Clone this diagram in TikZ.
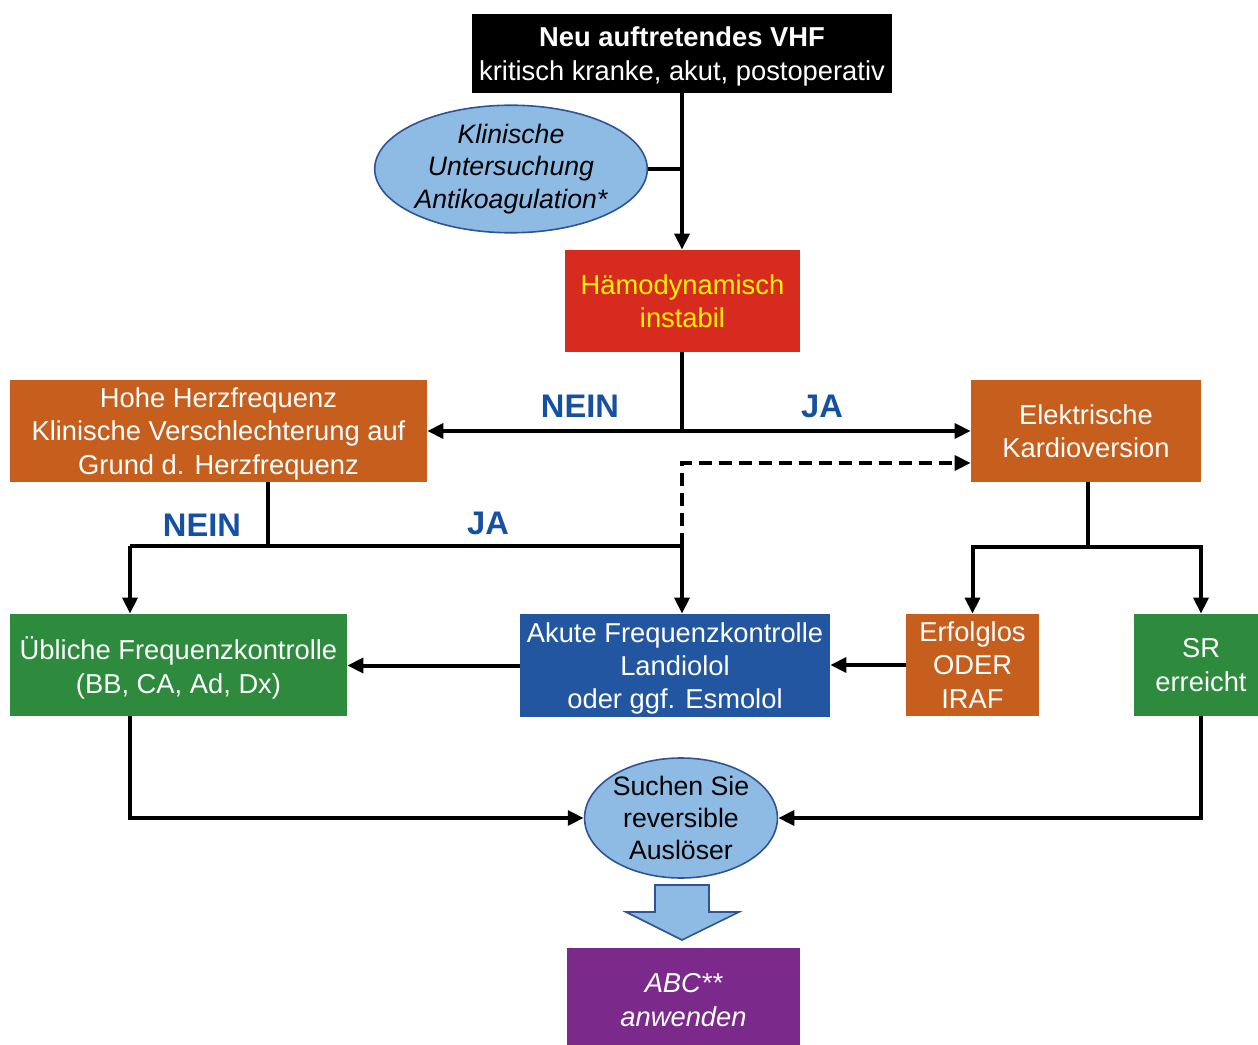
\documentclass[tikz,border=0pt]{standalone}
\usepackage{fontspec}
\setmainfont{Liberation Sans}
\usetikzlibrary{shapes,arrows.meta,calc}

\definecolor{hellblau}{HTML}{8DBBE3}
\definecolor{randblau}{HTML}{2F5496}
\definecolor{rot}{HTML}{D62B1E}
\definecolor{gelb}{HTML}{FFF200}
\definecolor{orangebox}{HTML}{C65E1D}
\definecolor{gruen}{HTML}{2E8B3E}
\definecolor{blaubox}{HTML}{2356A0}
\definecolor{lila}{HTML}{7B2A8C}
\definecolor{antwortblau}{HTML}{1650A0}

\begin{document}
\begin{tikzpicture}[x=0.75pt,y=-0.75pt,>={Triangle[length=12pt,width=11pt]},
		box/.style={rectangle,inner sep=0pt,text=white,align=center,text depth=0pt,minimum height=76.5pt,font=\fontsize{20.5}{25}\selectfont},
		oval/.style={ellipse,draw=randblau,line width=1.2pt,fill=hellblau,inner sep=0pt,align=center,font=\fontsize{20}{24}\selectfont},
		pfeil/.style={line width=3pt},
		antwort/.style={text=antwortblau,font=\fontsize{24.5}{27}\selectfont\bfseries}]
		\useasboundingbox (0,0) rectangle (1258,1045);

		\node[box,fill=black,minimum width=315pt,minimum height=59.25pt] (neu) at (682,53.5) {{\bfseries Neu auftretendes VHF}\\kritisch kranke, akut, postoperativ};
		\node[oval,minimum width=202.5pt,minimum height=91.5pt,font=\fontsize{20}{24.5}\selectfont\itshape] (klin) at (511,169) {Klinische\\Untersuchung\\Antikoagulation*};
		\node[box,fill=rot,text=gelb,minimum width=176.25pt] (instabil) at (682.5,301) {Hämodynamisch\\instabil};
		\node[box,fill=orangebox,minimum width=312.75pt] (hoch) at (218.5,431) {Hohe Herzfrequenz\\Klinische Verschlechterung auf\\Grund d. Herzfrequenz};
		\node[box,fill=orangebox,minimum width=172.5pt] (ekv) at (1086,431) {Elektrische\\Kardioversion};
		\node[box,fill=gruen,minimum width=252.75pt] (ueblich) at (178.5,665) {Übliche Frequenzkontrolle\\(BB, CA, Ad, Dx)};
		\node[box,fill=blaubox,minimum width=232.5pt,minimum height=77.25pt] (akut) at (675,665.5) {Akute Frequenzkontrolle\\Landiolol\\oder ggf. Esmolol};
		\node[box,fill=orangebox,minimum width=99.75pt] (erfolg) at (972.5,665) {Erfolglos\\ODER\\IRAF};
		\node[box,fill=gruen,minimum width=100.5pt] (sr) at (1201,665) {SR\\erreicht};
		\node[oval,minimum width=144pt,minimum height=90pt] (suche) at (681,818) {Suchen Sie\\reversible\\Auslöser};
		\node[box,fill=lila,minimum width=174.75pt,minimum height=78pt,font=\fontsize{20.5}{25}\selectfont\itshape] (abc) at (683.5,1000) {ABC**\\anwenden};

		\node[antwort] (nein1) at (580,406) {NEIN};
		\node[antwort] (ja1) at (822,406) {JA};
		\node[antwort] (nein2) at (202,525) {NEIN};
		\node[antwort] (ja2) at (488,523) {JA};

		\coordinate (j1) at (682,431);
		\coordinate (j2) at (268,546);
		\coordinate (j3) at (682,546);
		\coordinate (b1) at (130,546);
		\coordinate (j4) at (1088,547);

		\draw[pfeil,->] (neu.south) -- (neu.south |- instabil.north);
		\draw[pfeil] (klin.east) -- (klin.east -| neu.south);
		\draw[pfeil] (instabil.south -| j1) -- (j1);
		\draw[pfeil,->] (j1) -- (hoch.east);
		\draw[pfeil,->] (j1) -- (ekv.west);
		\draw[pfeil] (hoch.south -| j2) -- (j2);
		\draw[pfeil] (b1) -- (j3);
		\draw[pfeil,->] (b1) -- (b1 |- ueblich.north);
		\draw[pfeil,->] (j3) -- (j3 |- akut.north);
		\draw[pfeil,->,dash pattern=on 10pt off 5pt] (j3) |- ([yshift=-24pt]ekv.west);
		\draw[pfeil] (ekv.south -| j4) -- (j4);
		\draw[pfeil,->] (j4) -| (erfolg.north);
		\draw[pfeil,->] (j4) -| (sr.north);
		\draw[pfeil,->] (erfolg.west) -- (erfolg.west -| akut.east);
		\draw[pfeil,->] (akut.west) -- (akut.west -| ueblich.east);
		\draw[pfeil,->] (b1 |- ueblich.south) |- (suche.west);
		\draw[pfeil,->] (sr.south) |- (suche.east);

		% Blockpfeil
		\draw[draw=randblau,fill=hellblau,line width=1.2pt] (655,885) -- (709,885) -- (709,912) -- (739,912) -- (682,940) -- (626,912) -- (655,912) -- cycle;
\end{tikzpicture}
\end{document}
